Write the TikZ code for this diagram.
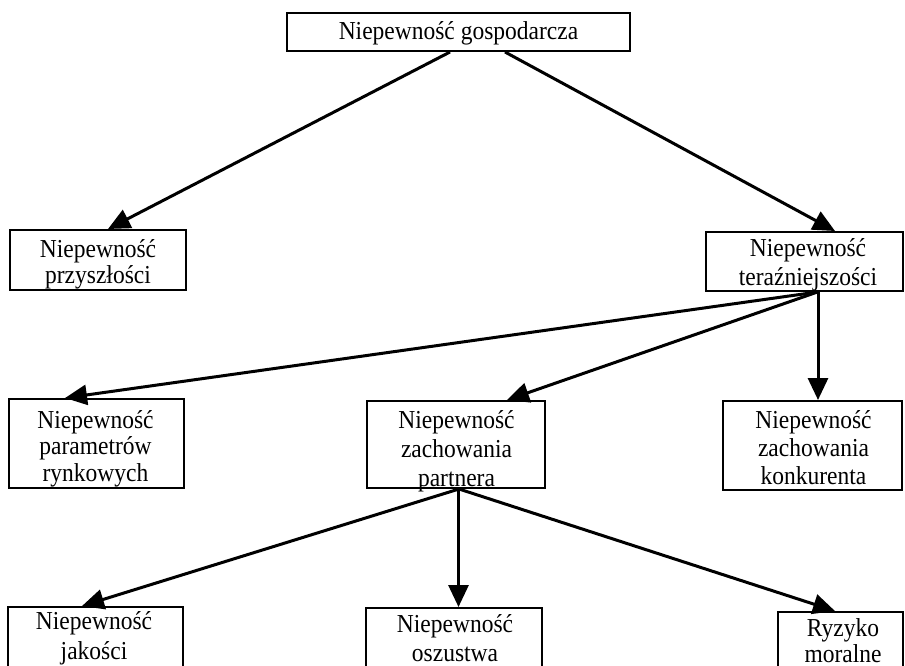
\documentclass[tikz,border=0pt]{standalone}
\usepackage{fontspec}
\usepackage{graphicx}
\setmainfont{Liberation Serif}
\usetikzlibrary{arrows.meta,calc}
\newcommand\stk[2][29pt]{\scalebox{1}[1.1]{\vtop{\baselineskip=#1\lineskiplimit=-20pt\halign{\hfil##\hfil\cr#2\crcr}}}}
\begin{document}
\begin{tikzpicture}[x=1pt,y=-1pt,
  box/.style={draw, line width=2pt, inner sep=0pt},
  txt/.style={inner sep=0pt, anchor=base, font=\fontsize{23.5}{29}\selectfont},
  arr/.style={line width=3pt, -{Triangle[length=22pt,width=20pt]}}]
\useasboundingbox (0,0) rectangle (905,666);
\clip (0,0) rectangle (905,666);
% boxes
\node[box, minimum width=343pt, minimum height=38pt] (top) at (458.5,32) {};
\node[box, minimum width=176pt, minimum height=60pt] (fut) at (98,260) {};
\node[box, minimum width=197pt, minimum height=59pt] (pres) at (804.5,261.5) {};
\node[box, minimum width=175pt, minimum height=89pt] (par) at (96.5,443.5) {};
\node[box, minimum width=178pt, minimum height=87pt] (ptn) at (456,444.5) {};
\node[box, minimum width=179pt, minimum height=89pt] (kon) at (812.5,445.5) {};
\node[box, minimum width=175pt, minimum height=89pt] (jak) at (95.5,651.5) {};
\node[box, minimum width=176pt, minimum height=89pt] (osz) at (454,652.5) {};
\node[box, minimum width=125pt, minimum height=88pt] (ryz) at (840.5,656) {};
% texts
\node[txt] (ttop) at (458.5,39.5) {\scalebox{1}[1.1]{Niepewność gospodarcza}};
\node[txt] (tfut) at (98,257) {\stk[24.5pt]{Niepewność\cr przyszłości}};
\node[txt] (tpres) at (808,256) {\stk[26.4pt]{Niepewność\cr teraźniejszości}};
\node[txt] (tpar) at (95.5,428) {\stk[24.5pt]{Niepewność\cr parametrów\cr rynkowych}};
\node[txt] (tptn) at (456.5,428) {\stk[26.4pt]{Niepewność\cr zachowania\cr partnera}};
\node[txt] (tkon) at (813.5,428) {\stk[25.5pt]{Niepewność\cr zachowania\cr konkurenta}};
\node[txt] (tjak) at (94,629) {\stk[27.3pt]{Niepewność\cr jakości}};
\node[txt] (tosz) at (455,632) {\stk[26.4pt]{Niepewność\cr oszustwa}};
\node[txt] (tryz) at (843,636) {\stk[24.5pt]{Ryzyko\cr moralne}};
% arrows
\draw[arr] ($(top.south)+(-8.5,0)$) -- ($(fut.north)+(10,0)$);
\draw[arr] ($(top.south)+(46.5,0)$) -- ($(pres.north)+(30.5,0)$);
\draw[arr] ($(pres.south)+(13,0)$) -- ($(par.north)+(-31.5,0)$);
\draw[arr] ($(pres.south)+(13,0)$) -- ($(ptn.north)+(51,0)$);
\draw[arr] ($(pres.south)+(13.5,0)$) -- ($(kon.north)+(5.5,0)$);
\draw[arr] ($(ptn.south)+(3,0)$) -- ($(jak.north)+(-13.5,0)$);
\draw[arr] ($(ptn.south)+(2.5,0)$) -- ($(osz.north)+(4.5,0)$);
\draw[arr] ($(ptn.south)+(3,0)$) -- ($(ryz.north)+(-5.5,0)$);
\end{tikzpicture}
\end{document}
